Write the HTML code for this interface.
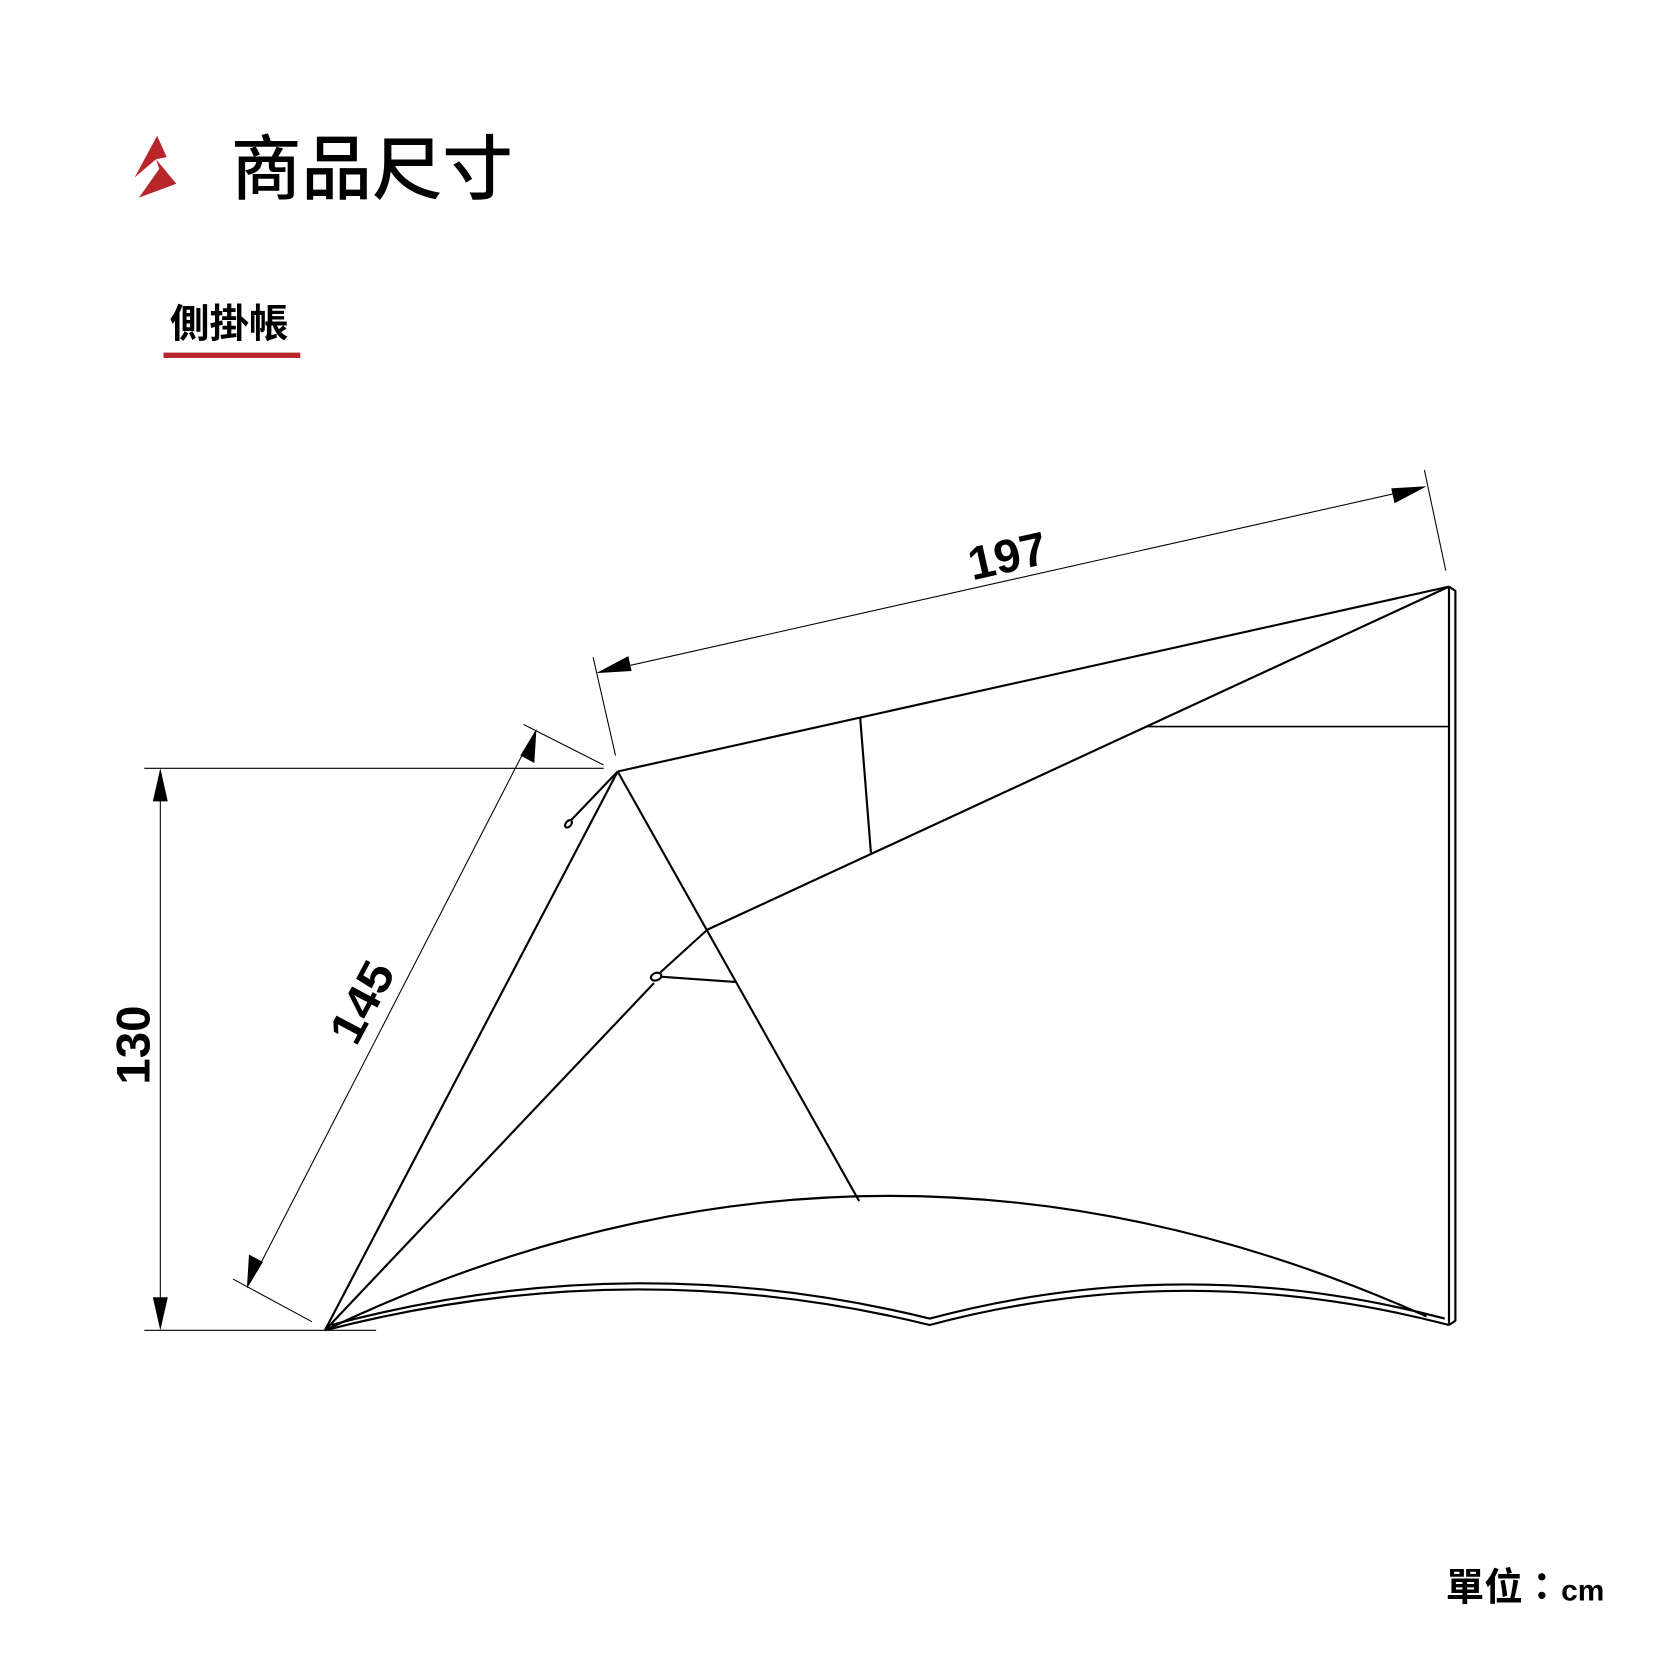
<!DOCTYPE html>
<html><head><meta charset="utf-8"><style>
html,body{margin:0;padding:0;background:#fff;}
svg{display:block;}
text{font-family:"Liberation Sans","Noto Sans CJK TC",sans-serif;}
</style></head><body>
<svg width="1667" height="1668" viewBox="0 0 1560 1561" xmlns="http://www.w3.org/2000/svg">
<rect width="1560" height="1561" fill="#fff"/>
<polygon points="126,166 147,127 156,147 146,149" fill="#b8262c"/>
<polygon points="130,185 149,158 146,149 165,172" fill="#b8262c"/>
<text x="216" y="181" font-size="66" font-weight="500" fill="#000" font-family="'Noto Sans CJK TC',sans-serif">商品尺寸</text>
<text x="159" y="316" font-size="37" font-weight="bold" fill="#000">側掛帳</text>
<rect x="153" y="330" width="128" height="5" fill="#b8262c"/>
<g stroke="#000" fill="none" stroke-width="1">
<line x1="135" y1="719" x2="565" y2="719"/>
<line x1="135" y1="1245" x2="352" y2="1245"/>
<line x1="150" y1="735" x2="150" y2="1230"/>
<line x1="490" y1="678" x2="565" y2="716"/>
<line x1="218" y1="1197" x2="292" y2="1237"/>
<line x1="492" y1="700" x2="240" y2="1190"/>
<line x1="555" y1="615" x2="576" y2="707"/>
<line x1="1333" y1="440" x2="1353" y2="534"/>
<line x1="575" y1="626" x2="1318" y2="459"/>
</g>
<g fill="#000">
<polygon points="150,719 143,750 157,750"/>
<polygon points="150,1245 143,1214 157,1214"/>
<polygon points="502,682 500,714 487,707"/>
<polygon points="231,1206 233,1174 246,1181"/>
<polygon points="558,630 588,614 591,628"/>
<polygon points="1335,455 1305,471 1302,457"/>
</g>
<text transform="translate(140,978) rotate(-90)" font-size="44" font-weight="bold" text-anchor="middle" textLength="74" lengthAdjust="spacingAndGlyphs">130</text>
<text transform="translate(352,945) rotate(-62)" font-size="44" font-weight="bold" text-anchor="middle" textLength="80" lengthAdjust="spacingAndGlyphs">145</text>
<text transform="translate(946,535) rotate(-12.7)" font-size="44" font-weight="bold" text-anchor="middle" textLength="74" lengthAdjust="spacingAndGlyphs">197</text>
<g stroke="#000" fill="none" stroke-width="2" stroke-linejoin="round">
<line x1="578" y1="722" x2="1356" y2="549"/>
<path d="M1356,549 L1362,553 L1362,1236 L1356,1240"/>
<line x1="1356" y1="549" x2="1356" y2="1240"/>
<line x1="1073" y1="680" x2="1356" y2="680" stroke-width="1.5"/>
<line x1="1356" y1="549" x2="662" y2="870"/>
<line x1="662" y1="870" x2="618" y2="910"/>
<line x1="578" y1="722" x2="804" y2="1124"/>
<line x1="805" y1="672" x2="815" y2="798"/>
<line x1="618" y1="914" x2="688" y2="919"/>
<line x1="578" y1="722" x2="304" y2="1245"/>
<line x1="612" y1="920" x2="304" y2="1245"/>
<line x1="578" y1="722" x2="534" y2="768"/>
<ellipse cx="532" cy="771" rx="2.5" ry="4" transform="rotate(40 532 771)"/>
<ellipse cx="614" cy="914" rx="5" ry="3.5" transform="rotate(-20 614 914)"/>
<path d="M304,1245 Q817,1000 1335,1232"/>
<path d="M304,1245 Q590,1171 870,1240 Q1110,1176 1356,1240"/>
<path d="M310,1240 Q590,1165 870,1234 Q1110,1170 1352,1234"/>
</g>
<text x="1353" y="1498" font-size="36" font-weight="bold">單位：<tspan font-size="28">cm</tspan></text>
</svg>
</body></html>
